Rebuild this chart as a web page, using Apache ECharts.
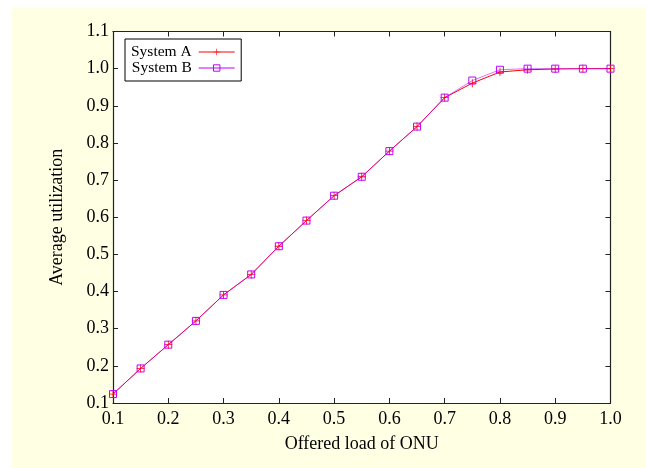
<!DOCTYPE html>
<html>
<head>
<meta charset="utf-8">
<script src="https://cdn.jsdelivr.net/npm/echarts@6/dist/echarts.min.js"></script>
<style>
  html, body { margin: 0; padding: 0; background: #ffffff; }
  #chart { width: 646px; height: 468px; }
</style>
</head>
<body>
<div id="chart"></div>
<script>
// offered load of ONU
var loads = [0.1, 0.15, 0.2, 0.25, 0.3, 0.35, 0.4, 0.45, 0.5, 0.55, 0.6, 0.65, 0.7, 0.75, 0.8, 0.85, 0.9, 0.95, 1.0];
var systemA = [0.124, 0.193, 0.257, 0.321, 0.391, 0.446, 0.522, 0.591, 0.658, 0.709, 0.778, 0.844, 0.922, 0.961, 0.991, 0.997, 0.999, 1.0, 1.0];
var systemB = [0.124, 0.193, 0.257, 0.321, 0.391, 0.446, 0.522, 0.591, 0.658, 0.709, 0.778, 0.844, 0.922, 0.968, 0.997, 1.0, 1.0, 1.0, 1.0];
var xTicks = ['0.1', '0.2', '0.3', '0.4', '0.5', '0.6', '0.7', '0.8', '0.9', '1.0'];
var yTicks = ['0.1', '0.2', '0.3', '0.4', '0.5', '0.6', '0.7', '0.8', '0.9', '1.0', '1.1'];

function pairs(ys) {
    let out = [];
    for (let i = 0; i < loads.length; i++) {
        out.push([loads[i], ys[i]]);
    }
    return out;
}

var font = 'Liberation Serif, Times New Roman, serif';
var plus = 'path://M4.5,0h1v4.5h4.5v1h-4.5v4.5h-1v-4.5h-4.5v-1h4.5z';

function axisBase(show) {
    return {
        type: 'value',
        axisLine: { show: true, lineStyle: { color: '#222', width: 1.2 } },
        axisTick: { show: true, inside: true, length: 5, lineStyle: { color: '#222' } },
        splitLine: { show: false },
        axisLabel: { show: show }
    };
}

let xBottom = axisBase(true);
xBottom.min = 0.1; xBottom.max = 1.0; xBottom.interval = 0.1;
xBottom.position = 'bottom';
xBottom.name = 'Offered load of ONU';
xBottom.nameLocation = 'middle';
xBottom.nameGap = 32;
xBottom.nameTextStyle = { fontFamily: font, fontSize: 18, color: '#000' };
xBottom.axisLabel = {
    show: true, margin: 7, fontFamily: font, fontSize: 18, color: '#000',
    formatter: function (v) { return xTicks[Math.round((v - 0.1) * 10)]; }
};
let xTop = axisBase(false);
xTop.min = 0.1; xTop.max = 1.0; xTop.interval = 0.1; xTop.position = 'top';

let yLeft = axisBase(true);
yLeft.min = 0.1; yLeft.max = 1.1; yLeft.interval = 0.1;
yLeft.position = 'left';
yLeft.name = 'Average utilization';
yLeft.nameLocation = 'middle';
yLeft.nameGap = 47;
yLeft.nameRotate = 90;
yLeft.nameTextStyle = { fontFamily: font, fontSize: 18, color: '#000' };
yLeft.axisLabel = {
    show: true, margin: 4, fontFamily: font, fontSize: 18, color: '#000',
    formatter: function (v) { return yTicks[Math.round((v - 0.1) * 10)]; }
};
let yRight = axisBase(false);
yRight.min = 0.1; yRight.max = 1.1; yRight.interval = 0.1; yRight.position = 'right';

let chart = echarts.init(document.getElementById('chart'));
chart.setOption({
    animation: false,
    backgroundColor: '#ffffff',
    graphic: [{
        type: 'rect', z: -10, silent: true,
        shape: { x: 12, y: 8, width: 634, height: 460 },
        style: { fill: '#ffffe4' }
    }, {
        type: 'rect', z: -9, silent: true,
        shape: { x: 113, y: 31.5, width: 497.5, height: 371.5 },
        style: { fill: '#ffffff' }
    }],
    grid: { left: 113, right: 35.5, top: 31.5, bottom: 65, show: false },
    legend: {
        left: 125, top: 39,
        orient: 'vertical',
        align: 'right',
        itemWidth: 36, itemHeight: 8, itemGap: 0,
        padding: [5, 6, 5, 6],
        borderColor: '#000', borderWidth: 1, borderRadius: 0,
        backgroundColor: '#ffffff',
        lineStyle: { width: 1, opacity: 1 },
        itemStyle: { borderWidth: 1 },
        textStyle: { fontFamily: font, fontSize: 15.5, color: '#000', padding: [0, 2, 0, 0] },
        data: ['System A', 'System B']
    },
    xAxis: [xBottom, xTop],
    yAxis: [yLeft, yRight],
    series: [{
        name: 'System A',
        type: 'line',
        data: pairs(systemA),
        symbol: plus,
        symbolSize: 8,
        showSymbol: true,
        itemStyle: { color: '#ff0000' },
        lineStyle: { color: '#ff0000', width: 1 },
        z: 2
    }, {
        name: 'System B',
        type: 'line',
        data: pairs(systemB),
        symbol: 'rect',
        symbolSize: 7,
        itemStyle: { color: 'rgba(0,0,0,0)', borderColor: '#c000ff', borderWidth: 1 },
        lineStyle: { color: '#c000ff', width: 1, opacity: 0.55 },
        z: 3
    }]
});
</script>
</body>
</html>
